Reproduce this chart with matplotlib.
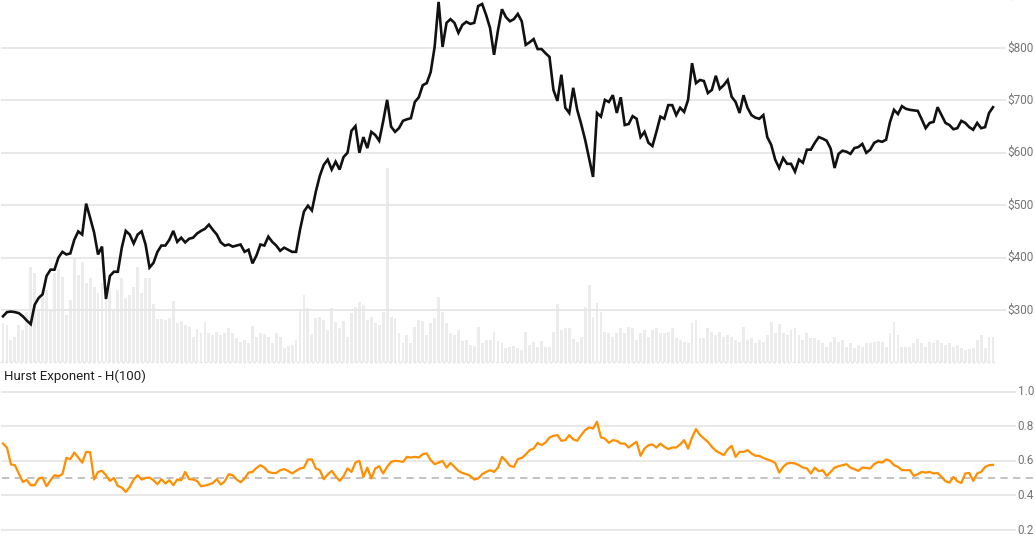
import matplotlib
matplotlib.use("Agg")
import matplotlib.pyplot as plt
import matplotlib.transforms as mtransforms
import numpy as np

# ---------------- data ----------------
price = [
    288, 296, 297, 296, 294, 288, 280, 273, 310, 323,
    330, 365, 377, 377, 400, 411, 406, 408, 434, 450,
    444, 503, 476, 448, 406, 421, 321, 365, 373, 373,
    419, 451, 444, 427, 444, 450, 425, 381, 390, 411,
    423, 423, 434, 451, 430, 438, 429, 436, 438, 446,
    451, 455, 463, 453, 444, 429, 423, 425, 421, 423,
    425, 411, 415, 389, 404, 425, 423, 440, 430, 423,
    413, 419, 415, 411, 411, 453, 488, 499, 490, 526,
    556, 577, 587, 568, 583, 568, 592, 600, 642, 651,
    600, 630, 609, 640, 634, 623, 660, 701, 650, 640,
    647, 661, 664, 666, 697, 706, 729, 733, 754, 802,
    888, 802, 848, 855, 848, 829, 844, 850, 846, 848,
    880, 884, 863, 838, 787, 834, 874, 859, 851, 855,
    865, 851, 806, 811, 817, 798, 798, 790, 783, 720,
    699, 749, 686, 676, 724, 682, 655, 625, 590, 554,
    676, 669, 701, 697, 710, 676, 706, 653, 655, 670,
    665, 630, 640, 619, 613, 640, 669, 665, 691, 691,
    672, 686, 678, 701, 771, 733, 739, 737, 714, 720,
    747, 722, 729, 739, 707, 697, 676, 710, 686, 672,
    667, 665, 672, 630, 615, 587, 571, 590, 579, 579,
    564, 587, 581, 606, 606, 619, 630, 627, 623, 608,
    571, 598, 604, 602, 598, 609, 611, 617, 600, 606,
    619, 623, 621, 625, 659, 682, 674, 689, 684, 682,
    681, 680, 664, 647, 657, 659, 687, 672, 657, 653,
    645, 647, 661, 657, 649, 644, 657, 647, 649, 676,
    687,
]

volume_m = [
    3.9, 3.7, 2.2, 2.5, 3.7, 3.2, 5.0, 9.5, 8.9, 5.2,
    7.2, 7.2, 5.2, 8.9, 9.3, 8.5, 4.7, 6.2, 10.4, 8.7,
    10.0, 7.9, 8.4, 7.5, 6.9, 7.9, 6.2, 7.4, 5.2, 7.2,
    8.4, 6.4, 6.7, 7.5, 9.5, 6.9, 8.4, 8.4, 5.8, 4.3,
    4.3, 4.2, 4.4, 6.1, 3.9, 4.1, 3.7, 3.5, 2.5, 3.3,
    2.9, 4.0, 2.9, 2.7, 3.0, 2.7, 2.9, 3.4, 2.9, 2.4,
    2.0, 2.2, 1.9, 3.6, 2.5, 2.9, 2.8, 2.5, 1.9, 2.9,
    2.5, 1.4, 1.6, 1.7, 2.2, 5.2, 6.7, 5.4, 2.8, 4.4,
    4.5, 4.2, 3.2, 5.4, 4.0, 3.4, 4.1, 2.5,
    4.9, 5.5, 6.0, 5.7, 4.2, 4.5, 3.9, 3.7, 5.0, 19.4,
    4.5, 4.4, 2.9, 1.9, 2.7, 1.9, 3.5, 4.2, 4.1, 2.7,
    3.9, 4.4, 6.5, 5.0, 3.9, 2.9, 2.7, 3.2, 2.1, 2.2,
    1.7, 1.6, 3.5, 1.9, 2.2, 2.2, 3.0, 2.1, 1.9, 1.4,
    1.5, 1.6, 1.4, 1.2, 3.0, 1.7, 2.0, 1.5, 2.1, 1.5,
    1.5, 3.0, 5.8, 3.2, 3.4, 3.4, 2.3, 2.0, 2.5, 5.5,
    7.7, 4.5, 5.9, 5.0, 3.0, 2.9, 2.5, 2.9, 3.4, 2.9,
    3.5, 3.4, 2.2, 2.9, 3.2, 2.5, 3.2, 3.4, 2.9, 2.9, 3.0,
    3.4, 2.4, 2.2, 2.0, 1.9,
    3.9, 4.2, 2.4, 2.4, 3.4, 3.0, 2.7, 3.0, 2.5, 2.7,
    2.5, 2.2, 2.0, 3.5, 2.2, 2.4, 1.9, 2.2, 2.0, 2.7,
    4.0, 2.9, 3.8, 2.9, 2.7, 3.2, 3.4, 2.7, 2.2, 2.9,
    2.4, 2.4, 2.2, 1.9, 1.5, 2.0, 2.5, 2.0, 2.2, 1.5,
    1.9, 1.4, 1.7, 1.5, 1.9, 1.9, 2.0, 2.1, 2.0, 1.5,
    2.9, 4.0, 2.7, 1.5, 1.5, 1.5, 1.9, 2.3, 1.9, 1.5,
    2.0, 1.9, 2.2, 1.9, 1.7, 1.9, 1.5, 1.7, 1.4, 1.2,
    1.3, 1.4, 2.2, 2.7, 1.4, 2.5, 2.5,
]

hurst = [
    0.700, 0.677, 0.579, 0.575, 0.527, 0.478, 0.490, 0.459, 0.459, 0.498,
    0.503, 0.453, 0.488, 0.517, 0.511, 0.523, 0.617, 0.610, 0.648, 0.619,
    0.590, 0.652, 0.650, 0.492, 0.536, 0.542, 0.517, 0.484, 0.501, 0.455,
    0.445, 0.420, 0.449, 0.492, 0.517, 0.492, 0.501, 0.503, 0.488, 0.465,
    0.494, 0.469, 0.488, 0.459, 0.492, 0.488, 0.536, 0.494, 0.492, 0.484,
    0.453, 0.457, 0.463, 0.472, 0.494, 0.463, 0.482, 0.523, 0.517, 0.492,
    0.476, 0.498, 0.532, 0.536, 0.559, 0.575, 0.561, 0.536, 0.530, 0.530,
    0.546, 0.552, 0.542, 0.527, 0.542, 0.556, 0.561, 0.608, 0.608, 0.556,
    0.546, 0.494, 0.521, 0.542, 0.511, 0.484, 0.511, 0.556, 0.536, 0.590,
    0.600, 0.507, 0.561, 0.498, 0.556, 0.569, 0.527, 0.565, 0.594, 0.600,
    0.598, 0.594, 0.623, 0.619, 0.623, 0.619, 0.639, 0.643, 0.604, 0.581,
    0.590, 0.600, 0.561, 0.588, 0.565, 0.542, 0.530, 0.523, 0.513, 0.492,
    0.498, 0.523, 0.536, 0.546, 0.536, 0.561, 0.623, 0.600, 0.571, 0.565,
    0.610, 0.617, 0.637, 0.662, 0.671, 0.704, 0.691, 0.706, 0.735, 0.745,
    0.749, 0.716, 0.720, 0.749, 0.724, 0.716, 0.749, 0.778, 0.793, 0.787,
    0.826, 0.735, 0.729, 0.704, 0.720, 0.716, 0.700, 0.700, 0.677, 0.695,
    0.710, 0.629, 0.671, 0.691, 0.695, 0.677, 0.700, 0.681, 0.668, 0.677,
    0.677, 0.695, 0.720, 0.671, 0.735, 0.784, 0.749, 0.729, 0.710, 0.681,
    0.658, 0.646, 0.633, 0.666, 0.687, 0.623, 0.652, 0.652, 0.662, 0.643,
    0.629, 0.629, 0.617, 0.608, 0.600, 0.588, 0.532, 0.565, 0.585, 0.588,
    0.585, 0.575, 0.561, 0.556, 0.527, 0.561, 0.540, 0.546, 0.513, 0.536,
    0.561, 0.569, 0.575, 0.581, 0.561, 0.552, 0.542, 0.561, 0.559, 0.556,
    0.581, 0.594, 0.590, 0.608, 0.600, 0.575, 0.565, 0.546, 0.546, 0.546,
    0.513, 0.523, 0.536, 0.532, 0.536, 0.527, 0.530, 0.507, 0.482, 0.474,
    0.507, 0.482, 0.472, 0.527, 0.530, 0.484, 0.527, 0.536, 0.565, 0.575,
    0.577,
]

price_ticks = [300, 400, 500, 600, 700, 800, 900]
price_tick_labels = ["$300", "$400", "$500", "$600", "$700", "$800", "$900"]
hurst_ticks = [0.2, 0.4, 0.6, 0.8, 1.0]
hurst_tick_labels = ["0.2", "0.4", "0.6", "0.8", "1.0"]
hurst_title = "Hurst Exponent - H(100)"

# ---------------- figure ----------------
W, H = 1035, 542
fig = plt.figure(figsize=(W / 100, H / 100), dpi=100)
fig.patch.set_facecolor("white")
plt.rcParams["font.family"] = ["Roboto", "DejaVu Sans"]

n = len(price)
x = np.arange(n)
px_per_idx = (993 - 3) / (n - 1)
xl = (-3 / px_per_idx, (n - 1) + (W - 993) / px_per_idx)

grid_c = "#e6e6e6"
label_c = "#757575"

def clean(ax):
    ax.set_xlim(*xl)
    for s in ax.spines.values():
        s.set_visible(False)
    ax.set_xticks([])
    ax.set_yticks([])
    ax.patch.set_alpha(0)

# top panel: y from 0 to 362 px
top_rect = [0, (H - 362) / H, 1, 362 / H]
ax_vol = fig.add_axes(top_rect)
ax_p = fig.add_axes(top_rect)
clean(ax_vol)
clean(ax_p)

ax_vol.bar(x, volume_m, width=0.72, color="#ececec", zorder=1)
ax_vol.set_ylim(0, 36.2)

ax_p.set_ylim(200.8, 891.6)
for v, lab in zip(price_ticks, price_tick_labels):
    ax_p.axhline(v, xmin=0.002, xmax=1005 / W, color=grid_c, lw=1.3, zorder=0)
    ax_p.text(1034 / W, v, lab, transform=mtransforms.blended_transform_factory(ax_p.transAxes, ax_p.transData),
              ha="right", va="center", fontsize=8.5, color=label_c, clip_on=False)
ax_p.plot(x, price, color="#111111", lw=1.9, zorder=3, solid_joinstyle="miter")

# separator
fig.add_artist(plt.Line2D([0, 995 / W], [(H - 362) / H] * 2, color="#e3e3e3", lw=1.0,
                          linestyle=(0, (2, 1.5))))

# bottom panel
bot_rect = [0, 0, 1, 159 / H]
ax_h = fig.add_axes(bot_rect)
clean(ax_h)
top_val = 1.0 + (391.7 - 383) / 172.9
bot_val = 0.2 - (542 - 530) / 172.9
ax_h.set_ylim(bot_val, top_val)
for v, lab in zip(hurst_ticks, hurst_tick_labels):
    ax_h.axhline(v, xmin=0.002, xmax=1015 / W, color=grid_c, lw=1.3, zorder=0)
    ax_h.text(1034 / W, v, lab, transform=mtransforms.blended_transform_factory(ax_h.transAxes, ax_h.transData),
              ha="right", va="center", fontsize=8.5, color=label_c, clip_on=False)
ax_h.axhline(0.5, xmin=0.002, xmax=1.0, color="#bdbdbd", lw=1.3, linestyle=(0, (4, 3)), zorder=1)
ax_h.plot(x, hurst, color="#ff8f00", lw=1.6, zorder=3)

fig.text(4 / W, (H - 376) / H, hurst_title, ha="left", va="center", fontsize=9.5, color="#212121")

fig.savefig("out.png", dpi=100, facecolor="white")
